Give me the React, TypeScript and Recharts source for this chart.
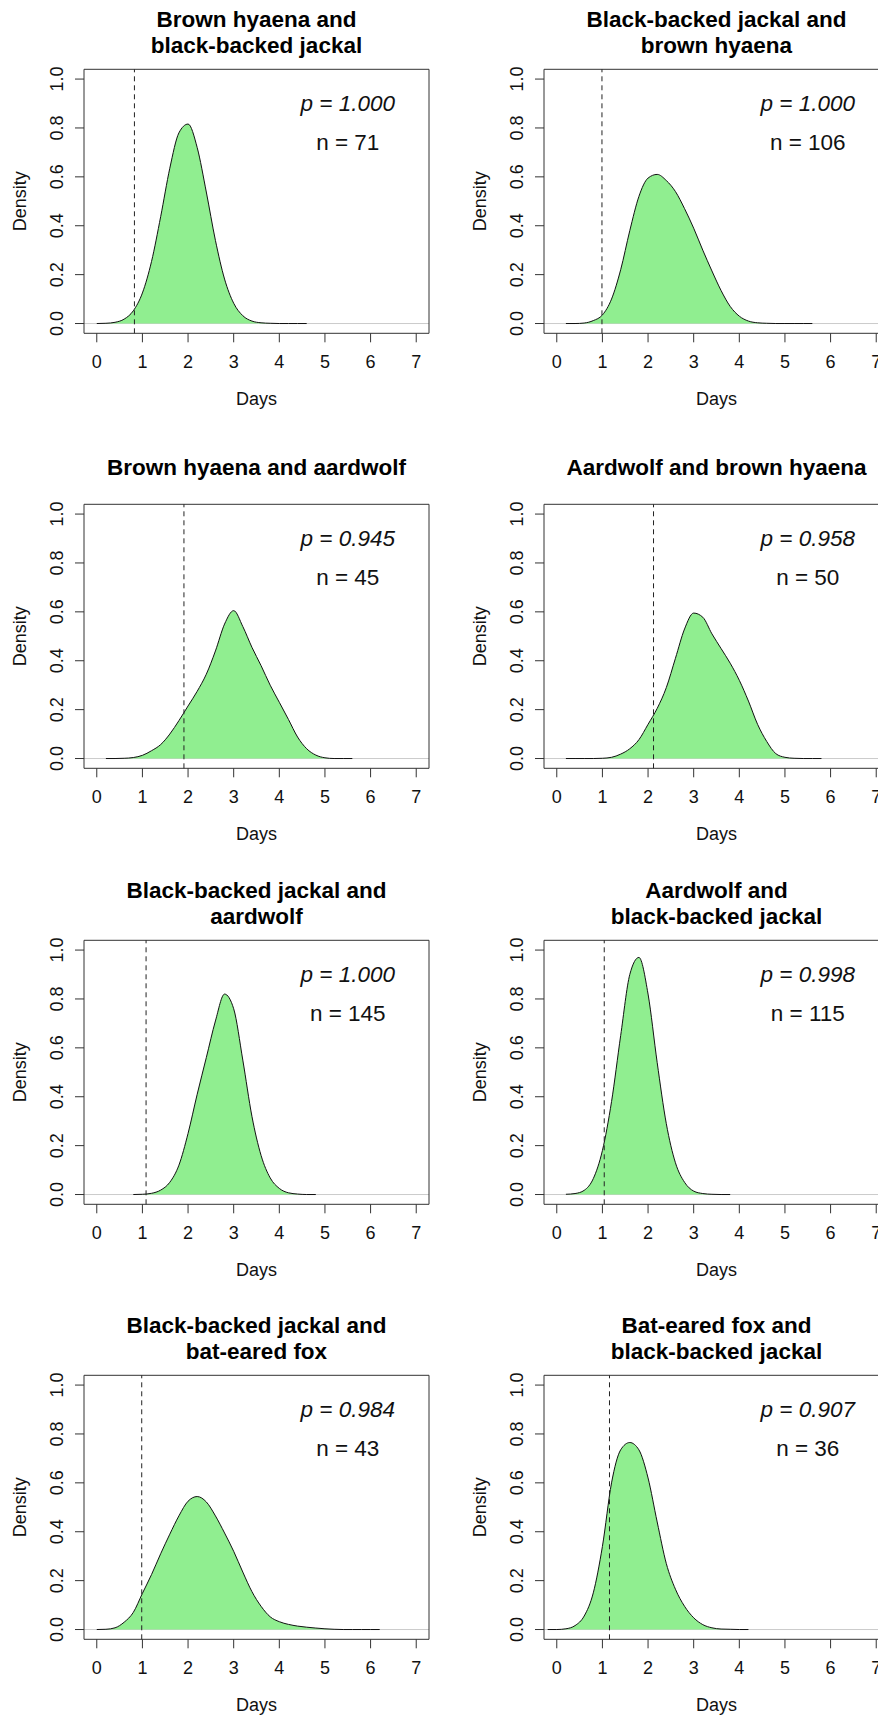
import React from 'react';
import {
  ComposedChart,
  Area,
  XAxis,
  YAxis,
  ReferenceLine,
  ReferenceArea,
  ReferenceDot,
} from 'recharts';

// shared x grid (days) for all density curves
const DAYS = [
  -0.2, 0, 0.2, 0.4, 0.6, 0.8, 1.0, 1.2, 1.4, 1.6, 1.8, 2.0, 2.2, 2.4, 2.6, 2.8, 3.0,
  3.2, 3.4, 3.6, 3.8, 4.0, 4.2, 4.4, 4.6, 4.8, 5.0, 5.2, 5.4, 5.6, 5.8, 6.0, 6.2,
];

const X_TICKS = [0, 1, 2, 3, 4, 5, 6, 7];
const Y_TICKS = [0, 0.2, 0.4, 0.6, 0.8, 1.0];

type D = number | null;

const bhBbj: D[] = [
  null, 0, 0.001, 0.005, 0.018, 0.052, 0.125, 0.254, 0.437, 0.635, 0.78, 0.816, 0.72, 0.538,
  0.34, 0.182, 0.083, 0.032, 0.01, 0.003, 0.001, 0, 0, 0, 0,
  null, null, null, null, null, null, null, null,
];
const bbjBh: D[] = [
  null, null, 0, 0, 0.002, 0.012, 0.035, 0.1, 0.22, 0.38, 0.52, 0.595, 0.61, 0.585, 0.54,
  0.47, 0.39, 0.3, 0.215, 0.135, 0.07, 0.03, 0.01, 0.003, 0.001, 0, 0, 0, 0, 0,
  null, null, null,
];
const bhAw: D[] = [
  null, null, 0, 0, 0.001, 0.004, 0.013, 0.032, 0.057, 0.1, 0.155, 0.215, 0.275, 0.345, 0.44,
  0.55, 0.605, 0.54, 0.455, 0.38, 0.3, 0.23, 0.16, 0.088, 0.04, 0.014, 0.003, 0, 0, 0,
  null, null, null,
];
const awBh: D[] = [
  null, null, 0, 0, 0, 0, 0.001, 0.005, 0.018, 0.04, 0.077, 0.14, 0.205, 0.29, 0.41, 0.53,
  0.595, 0.578, 0.51, 0.45, 0.39, 0.32, 0.235, 0.14, 0.07, 0.02, 0.005, 0.001, 0, 0, 0,
  null, null,
];
const bbjAw: D[] = [
  null, null, null, null, null, 0, 0.001, 0.005, 0.018, 0.05, 0.12, 0.25, 0.41, 0.56, 0.71,
  0.82, 0.76, 0.55, 0.32, 0.16, 0.068, 0.025, 0.007, 0.002, 0, 0,
  null, null, null, null, null, null, null,
];
const awBbj: D[] = [
  null, null, 0.001, 0.004, 0.017, 0.065, 0.18, 0.38, 0.65, 0.9, 0.97, 0.82, 0.54, 0.29,
  0.13, 0.05, 0.014, 0.004, 0.001, 0, 0,
  null, null, null, null, null, null, null, null, null, null, null, null,
];
const bbjBef: D[] = [
  null, 0, 0.001, 0.007, 0.03, 0.07, 0.148, 0.225, 0.31, 0.39, 0.465, 0.525, 0.544, 0.522,
  0.465, 0.395, 0.32, 0.235, 0.155, 0.095, 0.052, 0.032, 0.021, 0.014, 0.0095, 0.006, 0.003,
  0.001, 0, 0, 0, 0, 0,
];
const befBbj: D[] = [
  0, 0, 0.003, 0.016, 0.055, 0.15, 0.34, 0.6, 0.735, 0.765, 0.735, 0.62, 0.44, 0.27, 0.165,
  0.095, 0.048, 0.02, 0.007, 0.002, 0.001, 0, 0,
  null, null, null, null, null, null, null, null, null, null,
];

const DENSITIES = [bhBbj, bbjBh, bhAw, awBh, bbjAw, awBbj, bbjBef, befBbj];

const TITLES = [
  ['Brown hyaena and', 'black-backed jackal'],
  ['Black-backed jackal and', 'brown hyaena'],
  ['Brown hyaena and aardwolf'],
  ['Aardwolf and brown hyaena'],
  ['Black-backed jackal and', 'aardwolf'],
  ['Aardwolf and', 'black-backed jackal'],
  ['Black-backed jackal and', 'bat-eared fox'],
  ['Bat-eared fox and', 'black-backed jackal'],
];

const P_VALUES = ['1.000', '1.000', '0.945', '0.958', '1.000', '0.998', '0.984', '0.907'];
const N_VALUES = [71, 106, 45, 50, 145, 115, 43, 36];
const CUTOFFS = [0.825, 0.99, 1.91, 2.12, 1.08, 1.04, 0.985, 1.155];

const FONT = "'Liberation Sans', Arial, Helvetica, sans-serif";
const PANEL_W = 460;
const PANEL_H = 436;
const ROW_STEP = 435.33;
const COL_STEP = 459.5;
const PLOT_LEFT = 84;
const PLOT_TOP = 69.3;
const PLOT_W = 345;
const PLOT_H = 264;
const X_DOMAIN: [number, number] = [-0.28, 7.28];
const Y_DOMAIN: [number, number] = [-0.04, 1.04];

const XTick = ({ x, y, payload }: any) => (
  <text x={x} y={y + 25.4} textAnchor="middle" fontSize={18} fontFamily={FONT} fill="#111">
    {payload.value}
  </text>
);

const YTick = ({ x, y, payload }: any) => {
  const bx = x - 11.7;
  return (
    <text
      x={bx}
      y={y}
      transform={`rotate(-90 ${bx} ${y})`}
      textAnchor="middle"
      fontSize={18}
      fontFamily={FONT}
      fill="#111"
    >
      {Number(payload.value).toFixed(1)}
    </text>
  );
};

const Panel = ({ idx }: { idx: number }) => {
  const dens = DENSITIES[idx];
  const data = DAYS.map((x, i) => ({ x, d: dens[i] }));
  const title = TITLES[idx];
  const cx = PLOT_LEFT + PLOT_W / 2;
  const titleBase = title.length === 2 ? [26.5, 53] : [39.7];
  const left = (idx % 2) * COL_STEP;
  const top = Math.floor(idx / 2) * ROW_STEP;

  return (
    <div style={{ position: 'absolute', left, top, width: PANEL_W, height: PANEL_H }}>
      <ComposedChart
        width={PANEL_W}
        height={PANEL_H}
        data={data}
        margin={{ top: PLOT_TOP, right: PANEL_W - PLOT_LEFT - PLOT_W, bottom: 0, left: 0 }}
      >
        <XAxis
          type="number"
          dataKey="x"
          domain={X_DOMAIN}
          ticks={X_TICKS}
          interval={0}
          allowDataOverflow
          axisLine={false}
          tickLine={{ stroke: '#333' }}
          tickSize={9}
          tickMargin={0}
          height={PANEL_H - PLOT_TOP - PLOT_H}
          tick={<XTick />}
        />
        <YAxis
          type="number"
          domain={Y_DOMAIN}
          ticks={Y_TICKS}
          interval={0}
          allowDataOverflow
          axisLine={false}
          tickLine={{ stroke: '#333' }}
          tickSize={9}
          tickMargin={0}
          width={PLOT_LEFT}
          tick={<YTick />}
        />
        {/* zero line sits under the density curve */}
        <ReferenceLine y={0} stroke="#cccccc" strokeWidth={1} zIndex={-50} />
        <Area
          type="monotone"
          dataKey="d"
          baseValue={0}
          stroke="#111"
          strokeWidth={1}
          fill="#90EE90"
          fillOpacity={1}
          dot={false}
          activeDot={false}
          isAnimationActive={false}
        />
        <ReferenceLine x={CUTOFFS[idx]} stroke="#222" strokeDasharray="5 4" strokeWidth={1} />
        <ReferenceArea
          x1={X_DOMAIN[0]}
          x2={X_DOMAIN[1]}
          y1={Y_DOMAIN[0]}
          y2={Y_DOMAIN[1]}
          fill="none"
          fillOpacity={0}
          stroke="#333"
          strokeWidth={1}
          ifOverflow="visible"
        />
        <ReferenceDot
          x={5.5}
          y={0.9}
          r={0}
          ifOverflow="visible"
          shape={(p: any) => (
            <text
              x={p.cx}
              y={p.cy}
              textAnchor="middle"
              dominantBaseline="central"
              fontSize={22.5}
              fontStyle="italic"
              fontFamily={FONT}
              fill="#111"
            >
              {`p = ${P_VALUES[idx]}`}
            </text>
          )}
        />
        <ReferenceDot
          x={5.5}
          y={0.74}
          r={0}
          ifOverflow="visible"
          shape={(p: any) => (
            <text
              x={p.cx}
              y={p.cy}
              textAnchor="middle"
              dominantBaseline="central"
              fontSize={22.5}
              fontFamily={FONT}
              fill="#111"
            >
              {`n = ${N_VALUES[idx]}`}
            </text>
          )}
        />
      </ComposedChart>
      <svg
        width={PANEL_W}
        height={PANEL_H}
        style={{ position: 'absolute', left: 0, top: 0, pointerEvents: 'none' }}
      >
        {title.map((line, i) => (
          <text
            key={i}
            x={cx}
            y={titleBase[i]}
            textAnchor="middle"
            fontSize={22.5}
            fontWeight="bold"
            fontFamily={FONT}
            fill="#000"
          >
            {line}
          </text>
        ))}
        <text x={cx} y={404.5} textAnchor="middle" fontSize={18} fontFamily={FONT} fill="#111">
          Days
        </text>
        <text
          x={26}
          y={PLOT_TOP + PLOT_H / 2}
          transform={`rotate(-90 26 ${PLOT_TOP + PLOT_H / 2})`}
          textAnchor="middle"
          fontSize={18}
          fontFamily={FONT}
          fill="#111"
        >
          Density
        </text>
      </svg>
    </div>
  );
};

export default function App() {
  return (
    <div
      style={{
        position: 'absolute',
        left: 0,
        top: 0,
        width: 878,
        height: 1715,
        overflow: 'hidden',
        background: '#fff',
      }}
    >
      {DENSITIES.map((_, i) => (
        <Panel key={i} idx={i} />
      ))}
    </div>
  );
}
